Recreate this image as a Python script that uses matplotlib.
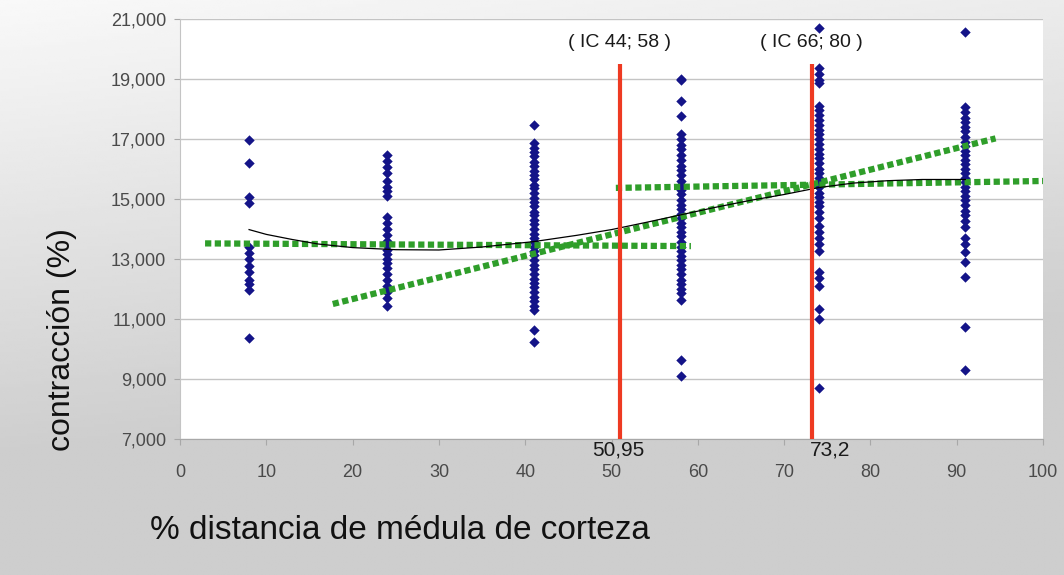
import numpy as np
import matplotlib
matplotlib.use("Agg")
import matplotlib.pyplot as plt
from matplotlib.ticker import FuncFormatter

plt.rcParams["font.family"] = ["Liberation Sans", "DejaVu Sans"]

# measurement positions (% distance pith -> bark) and shrinkage readings
pos = [8, 24, 41, 58, 74, 91]
contr = [
    [16950, 16200, 15080, 14880, 13400, 13200, 13000, 12750, 12550, 12300,
     12150, 11980, 10370],
    [16450, 16250, 16050, 15850, 15600, 15400, 15250, 15100, 14400, 14200,
     14000, 13800, 13600, 13450, 13300, 13150, 13000, 12850, 12700, 12500,
     12300, 12100, 11900, 11700, 11450],
    [17480, 16850, 16700, 16560, 16420, 16230, 16100, 15940, 15800, 15660,
     15480, 15350, 15210, 15040, 14900, 14760, 14580, 14450, 14300, 14160,
     14000, 13830, 13700, 13560, 13390, 13250, 13120, 12950, 12790, 12650,
     12500, 12340, 12200, 12070, 11900, 11740, 11600, 11450, 11300, 10650,
     10250],
    [19000, 18950, 18250, 17750, 17150, 17000, 16800, 16650, 16450, 16300,
     16100, 15950, 15800, 15600, 15450, 15300, 15150, 14950, 14800, 14650,
     14500, 14350, 14200, 14050, 13900, 13750, 13550, 13400, 13250, 13100,
     12950, 12800, 12650, 12500, 12300, 12150, 12000, 11850, 11650, 9650,
     9100],
    [20700, 19350, 19150, 18980, 18870, 18100, 17950, 17800, 17620, 17450,
     17300, 17150, 17000, 16820, 16650, 16500, 16350, 16200, 16000, 15850,
     15700, 15550, 15400, 15200, 15050, 14900, 14750, 14550, 14350, 14100,
     13900, 13700, 13500, 13250, 12550, 12350, 12100, 11350, 11000, 8700],
    [20580, 18080, 17900, 17700, 17550, 17400, 17250, 17050, 16900, 16750,
     16600, 16450, 16300, 16150, 16000, 15850, 15700, 15550, 15400, 15250,
     15100, 14950, 14800, 14600, 14450, 14250, 14080, 13700, 13500, 13230,
     12900, 12410, 10740, 9300],
]

# smoothed mean curve
trend_x = [8, 10, 13, 16, 20, 25, 30, 35, 41, 46, 50, 54, 58, 62, 66, 70,
           74, 78, 82, 86, 91]
trend_y = [13980, 13820, 13650, 13500, 13380, 13310, 13300, 13400, 13580,
           13790, 13980, 14220, 14470, 14720, 14950, 15150, 15380, 15530,
           15610, 15650, 15650]

# linear fits per segment
seg_x = [[2.9, 59.2], [17.7, 94.5], [50.5, 100]]
seg_y = [[13520, 13430], [11500, 17020], [15370, 15600]]

# breakpoints and their confidence intervals
breaks = [50.95, 73.2]
break_labels = ["50,95", "73,2"]
break_ha = ["center", "left"]
ic_labels = ["( IC 44; 58 )", "( IC 66; 80 )"]

fig = plt.figure(figsize=(10.64, 5.75), dpi=100)

# gray gradient behind the plot
bg = fig.add_axes([0, 0, 1, 1])
gx, gy = np.meshgrid(np.linspace(0, 1, 300), np.linspace(0, 1, 200))
shade = 0.975 - 0.17 * np.clip(gy * 1.25 + gx * 0.3, 0, 1)
bg.imshow(shade, extent=[0, 1, 0, 1], aspect="auto", cmap="gray",
          vmin=0, vmax=1, origin="upper")
bg.axis("off")

ax = fig.add_axes([0.1692, 0.2365, 0.8111, 0.7305])
ax.set_facecolor("white")

for x, vals in zip(pos, contr):
    ax.scatter([x] * len(vals), vals, marker="D", s=28, color="#141488",
               linewidths=0, zorder=3)

for sx, sy in zip(seg_x, seg_y):
    ax.plot(sx, sy, color="#2f9e2a", lw=4.5, linestyle=(0, (1, 0.55)),
            dash_capstyle="butt", zorder=4)

ax.plot(trend_x, trend_y, color="black", lw=0.9, zorder=5)

for b, bl, ha, ic in zip(breaks, break_labels, break_ha, ic_labels):
    ax.plot([b, b], [7000, 19500], color="#ee3a22", lw=3, zorder=6,
            solid_capstyle="butt")
    ax.text(b, 20200, ic, ha="center", va="center", fontsize=14,
            color="#1a1a1a", zorder=7)
    ax.text(b - 0.2, 6650, bl, ha=ha, va="center", fontsize=15,
            color="#1a1a1a", clip_on=False, zorder=7)

ax.set_xlim(0, 100)
ax.set_ylim(7000, 21000)
ax.set_xticks(range(0, 101, 10))
ax.set_yticks(range(7000, 21001, 2000))
ax.yaxis.set_major_formatter(FuncFormatter(lambda v, p: f"{int(v):,}"))
ax.grid(axis="y", color="#c4c4c4", lw=1)
ax.set_axisbelow(True)
for side in ["top", "right"]:
    ax.spines[side].set_visible(False)
ax.spines["left"].set_color("#c4c4c4")
ax.spines["bottom"].set_color("#a8a8a8")
ax.tick_params(axis="both", colors="#a8a8a8", labelcolor="#4a4a4a",
               labelsize=13, length=4)
ax.tick_params(axis="x", pad=14)
ax.tick_params(axis="y", pad=6)

fig.text(0.058, 0.409, "contracción (%)", rotation=90, ha="center",
         va="center", fontsize=23, color="#111111")
fig.text(0.141, 0.078, "% distancia de médula de corteza", ha="left",
         va="center", fontsize=24, color="#111111")

fig.savefig("out.png", dpi=100)
